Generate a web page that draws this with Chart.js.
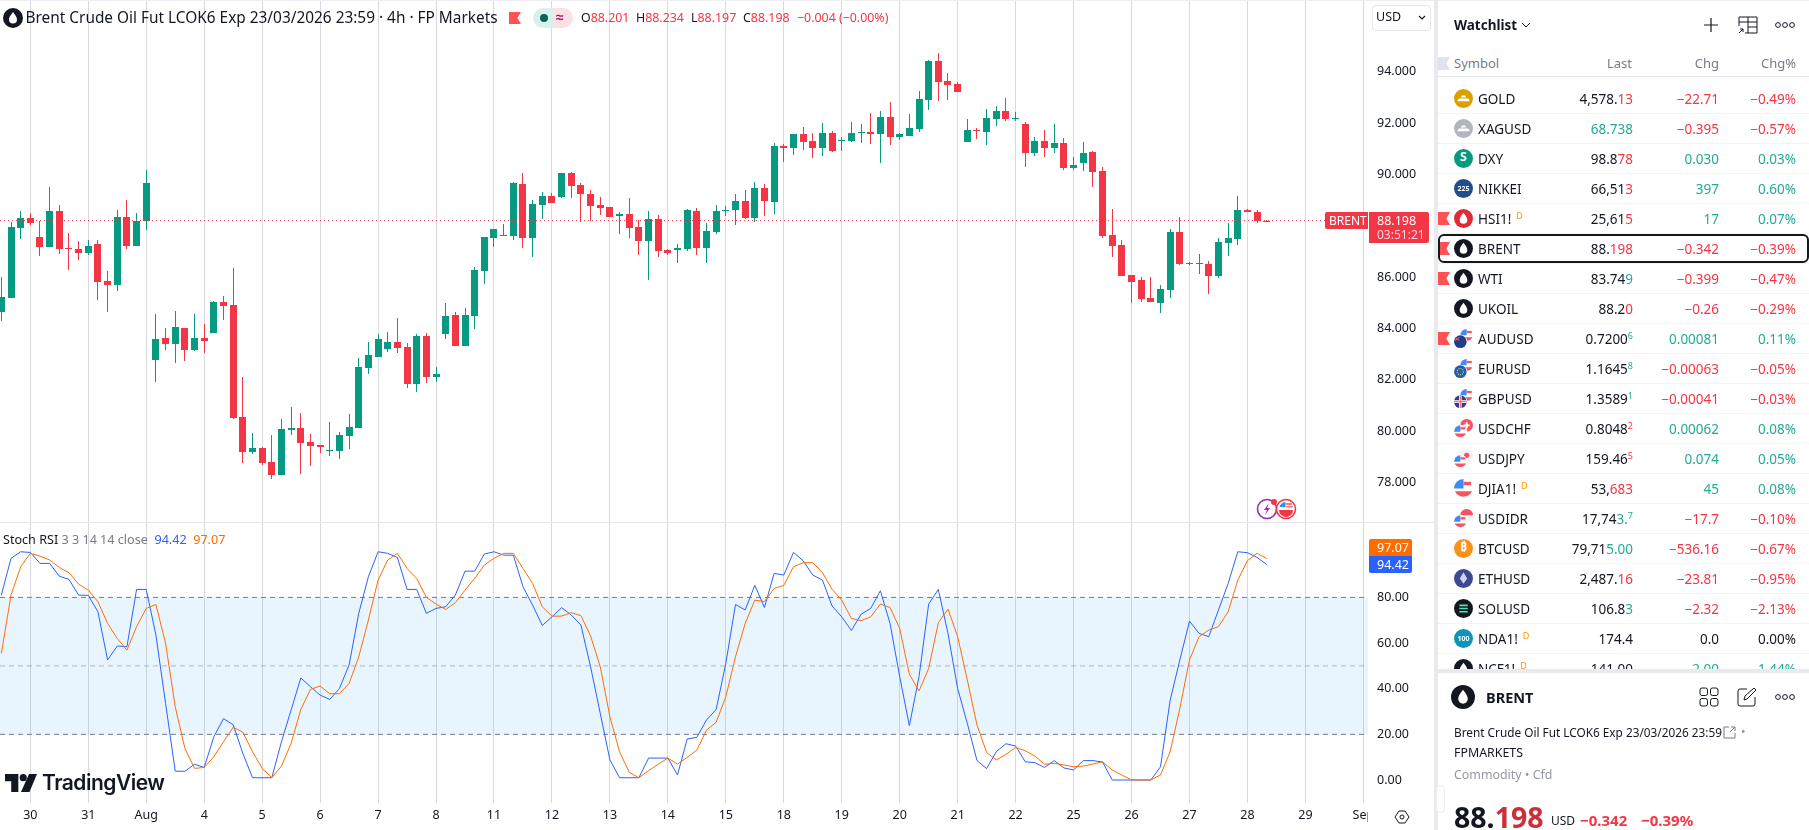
<!DOCTYPE html>
<html>
<head>
<meta charset="utf-8">
<title>BRENT 4h</title>
<script src="https://cdn.jsdelivr.net/npm/chart.js@4"></script>
<style>
html, body { margin: 0; padding: 0; background: #fff; }
body { width: 1809px; height: 830px; overflow: hidden; position: relative; font-family: "Noto Sans", sans-serif; color: #131722; }
canvas { position: absolute; left: 0; }
.abs { position: absolute; white-space: nowrap; }
.r { color: #f23645; }
.g { color: #22ab94; }
.row { position: absolute; left: 1438px; width: 371px; height: 30px; border-bottom: 1px solid #f0f3fa; box-sizing: border-box; font-size: 13.5px; line-height: 30px; }
.row span.c { position: absolute; top: 0; white-space: nowrap; }
.row sup { font-size: 9px; line-height: 0; vertical-align: 5px; }
.flag { position: absolute; width: 12px; height: 13px; background: #ff5252; clip-path: polygon(0 0, 100% 0, 70% 50%, 100% 100%, 0 100%); }
.ic { position: absolute; left: 16px; top: 5px; width: 19px; height: 19px; }
</style>
</head>
<body>
<canvas id="price-chart" width="1434" height="522" style="top:0;width:1434px;height:522px"></canvas>
<canvas id="stoch-chart" width="1434" height="307" style="top:523px;width:1434px;height:307px"></canvas>
<div id="overlay"></div>
<script>
// candles, 4h bars
const opens = [84.65,85.18,87.91,88.30,87.56,87.17,88.57,87.13,87.09,86.94,87.29,85.84,85.69,88.34,87.21,88.18,
  82.77,83.62,83.39,84.01,83.16,83.62,83.82,85.03,84.91,80.55,79.18,79.34,78.79,78.29,80.04,80.12,79.57,79.45,79.22,79.22,79.81,
  80.12,82.45,82.88,83.19,83.47,83.27,81.83,83.70,82.10,83.78,84.52,83.31,84.48,86.23,87.52,87.60,87.60,89.62,87.52,88.81,
  89.16,89.12,90.05,89.58,89.23,88.81,88.73,88.38,88.45,87.95,87.40,88.26,87.05,87.05,87.09,88.57,87.13,87.75,88.57,88.61,
  88.96,88.30,89.47,88.92,91.10,91.03,91.57,91.30,91.03,91.61,91.30,91.30,91.61,91.65,91.57,92.23,91.45,91.49,91.77,92.90,
  94.41,93.64,93.52,91.26,91.73,91.65,92.16,92.47,92.16,91.96,90.83,91.30,91.03,91.22,90.25,90.44,90.87,90.13,87.64,87.25,
  86.08,85.88,85.18,84.99,85.49,87.75,86.55,86.51,86.51,86.04,87.32,87.49,88.61,88.53,88.201];
const highs = [86.00,88.14,88.57,88.49,88.18,89.51,88.81,87.71,87.40,87.44,87.44,86.23,88.61,89.00,88.49,90.17,
  84.56,84.01,84.68,84.01,84.56,84.17,85.07,85.26,86.35,82.10,79.92,79.38,79.84,80.47,80.94,80.70,79.88,79.45,80.35,79.96,80.66,
  82.84,83.47,83.78,83.86,84.40,83.43,83.78,83.82,82.49,84.99,84.64,84.79,86.39,87.56,87.87,88.06,89.70,90.05,89.00,89.31,
  89.27,90.05,90.09,89.66,89.39,89.12,88.73,88.53,89.08,88.22,88.57,88.42,87.09,87.29,88.65,88.69,88.10,88.81,88.77,89.23,
  89.39,89.70,89.62,91.22,91.18,91.57,91.85,91.61,92.00,91.69,91.45,92.04,91.96,92.39,92.47,92.82,91.61,92.35,93.25,94.45,
  94.73,93.95,93.60,92.16,91.81,92.55,92.66,92.97,92.43,92.04,91.45,91.73,91.96,91.42,90.68,91.26,90.91,90.29,88.65,87.44,
  86.08,86.00,86.00,85.69,87.87,88.34,86.58,86.90,86.62,87.52,88.10,89.16,88.65,88.61,88.234];
const lows = [84.29,85.18,87.48,88.03,86.82,87.17,86.90,86.27,86.66,86.86,85.11,84.64,85.45,87.09,87.21,87.83,
  81.91,83.16,82.65,82.73,83.12,83.04,83.82,84.32,80.47,78.75,79.10,78.67,78.13,78.29,79.84,78.33,78.64,79.14,79.03,78.91,79.30,
  80.12,82.22,82.88,83.08,83.04,81.68,81.52,81.87,81.91,83.58,83.31,83.31,83.97,85.73,87.17,87.60,87.44,87.13,86.78,88.26,
  88.88,89.08,89.08,88.14,88.18,88.42,88.34,87.68,87.52,86.86,85.88,86.78,86.86,86.55,87.01,86.86,86.55,87.68,88.38,88.03,
  88.26,88.14,88.38,88.45,90.48,90.75,90.95,90.64,90.71,90.87,90.91,91.26,91.22,91.18,90.44,91.14,91.34,91.49,91.65,92.51,
  92.86,92.90,93.21,91.26,91.38,91.14,91.88,92.08,92.08,90.29,90.71,90.68,90.83,90.17,90.17,90.13,89.51,87.52,86.78,86.04,
  84.99,85.03,85.03,84.60,85.18,86.47,86.47,86.12,85.34,85.96,86.82,87.25,88.53,88.10,88.197];
const closes = [85.22,87.95,88.30,88.10,87.17,88.57,87.09,87.09,86.94,87.21,85.81,85.69,88.34,87.21,88.18,89.66,
  83.58,83.39,84.05,83.16,83.62,83.51,85.03,84.87,80.51,79.18,79.34,78.75,78.29,80.08,80.12,79.53,79.42,79.38,79.26,79.84,80.16,
  82.49,82.96,83.58,83.47,83.23,81.83,83.70,82.10,82.22,84.48,83.31,84.52,86.27,87.56,87.87,87.64,89.66,87.52,88.84,89.16,
  88.88,90.05,89.55,89.23,88.77,88.69,88.34,88.45,87.91,87.40,88.26,87.01,86.94,87.13,88.61,87.13,87.79,88.57,88.63,88.96,
  88.30,89.47,88.96,91.10,91.03,91.57,91.26,91.03,91.61,90.91,91.34,91.61,91.65,91.57,92.23,91.45,91.57,91.81,92.94,94.41,
  93.60,93.48,93.21,91.73,91.69,92.20,92.47,92.16,92.20,90.83,91.30,91.03,91.22,90.25,90.36,90.83,90.09,87.60,87.21,86.04,
  85.81,85.14,85.03,85.53,87.75,86.51,86.51,86.55,86.04,87.36,87.52,88.61,88.53,88.18,88.198];

// Stoch RSI, same bars
const stochK = [81.0,97.1,100,99.7,94.9,94.9,89.3,87.9,81.0,80.9,73.7,52.6,58.7,58.4,83.5,83.5,63.5,33.6,3.9,3.8,6.9,5.5,19.0,26.9,24.2,11.7,
  1.0,1.0,1.0,16.8,30.7,44.7,40.9,37.2,35.3,40.1,50.4,73.0,89.1,100,99.3,97.5,83.5,83.5,73.0,75.2,75.9,81.0,91.5,91.5,99.0,100,98.5,98.5,
  84.7,76.6,67.7,71.5,75.5,72.3,67.9,49.6,29.2,8.8,1.0,1.0,1.0,9.6,9.6,9.6,2.2,18.0,18.7,26.3,30.9,51.1,76.9,74.5,85.3,75.6,90.5,89.8,99.7,
  96.1,89.8,87.6,76.2,71.5,65.5,72.6,75.2,82.9,68.6,45.3,23.8,45.3,77.1,83.5,64.2,40.1,24.8,8.5,5.0,12.4,15.9,14.9,8.0,7.6,5.5,8.5,5.3,4.4,
  8.5,8.5,7.9,0,0,0,0,0,5.8,35.0,52.6,69.6,64.2,62.8,74.5,86.1,100,99.6,97.5,94.42];
const stochD = [55.5,81.0,93.4,99.3,98.1,96.4,93.1,90.8,85.8,83.2,78.1,68.6,62.0,56.9,67.2,75.2,76.9,59.9,32.1,13.9,5.1,5.5,10.2,16.8,23.1,21.0,
  12.4,5.1,1.0,6.1,16.1,30.9,39.7,41.2,37.8,37.8,42.3,54.0,70.1,87.6,96.4,99.3,92.7,88.3,80.0,77.1,74.7,77.7,83.2,88.3,94.2,97.1,99.3,99.3,
  92.7,86.1,75.9,71.8,71.8,73.3,72.0,63.1,49.6,27.7,12.4,3.4,1.0,4.1,6.9,9.6,7.0,9.9,13.1,21.9,25.3,36.5,54.0,68.6,78.8,78.2,83.9,85.3,93.4,
  95.2,95.2,90.9,83.6,78.8,70.8,69.8,71.5,77.1,75.6,66.4,46.3,39.0,48.9,68.9,74.9,62.8,43.8,24.1,12.0,8.8,11.2,14.3,12.8,10.5,6.9,7.3,6.6,5.8,
  6.1,7.0,8.0,4.4,2.2,0,0,0,2.2,12.4,31.4,52.6,62.8,65.7,67.2,73.7,87.6,96.1,99.3,97.07];

const dayLabels = ['30','31','Aug','4','5','6','7','8','11','12','13','14','15','18','19','20','21','22','25','26','27','28','29','Sep'];
const priceTicks = [78,80,82,84,86,90,92,94];
const stochTicks = [0,20,40,60,80];
const stochLevels = [80,50,20];
const lastPrice = 88.198;

const FONT = '"Noto Sans", sans-serif';
const UP = '#089981', DOWN = '#f23645';
const GRID = '#d9dadd';
const AXIS_W = 66;

// first bar is 3 before the "30" tick, 6 bars a day
const barIndex = opens.map((_, i) => i - 3);
const dayTicks = dayLabels.map((_, i) => i * 6);
const xMin = -3.14, xMax = 138.48;
const barColors = opens.map((o, i) => closes[i] >= o ? UP : DOWN);

// chart.js keeps half a label of margin by default, the panes here go edge to edge
const noMargins = s => { s.paddingTop = s.paddingBottom = s.paddingLeft = s.paddingRight = 0; };

const xScale = (showLabels) => ({
  type: 'linear', min: xMin, max: xMax, offset: false,
  afterBuildTicks: s => { s.ticks = dayTicks.map(v => ({ value: v })); },
  afterFit: s => { noMargins(s); if (showLabels) s.height = 27; },
  grid: { color: GRID, offset: false, drawTicks: false },
  border: { display: false },
  ticks: {
    display: showLabels, autoSkip: false, maxRotation: 0, padding: 5,
    color: '#131722', font: { family: FONT, size: 12.5 },
    callback: (v, i) => dayLabels[i]
  }
});

const yScale = (min, max, tickList, fmt) => ({
  type: 'linear', position: 'right', min, max,
  afterBuildTicks: s => { s.ticks = tickList.map(v => ({ value: v })); },
  afterFit: s => { noMargins(s); s.width = AXIS_W; },
  grid: { display: false, drawTicks: false },
  border: { display: false },
  ticks: { color: '#131722', font: { family: FONT, size: 12.5 }, padding: 9, callback: fmt }
});

// keep candles on whole pixels, the way the original looks
const snapBars = {
  id: 'snapBars',
  beforeDatasetsDraw(chart) {
    chart.getSortedVisibleDatasetMetas().forEach(meta => {
      if (meta.type !== 'bar') return;
      meta.data.forEach(el => {
        el.x = Math.floor(el.x) + 0.5;
        el.y = Math.round(el.y);
        el.base = Math.round(el.base);
        if (el.y === el.base) el.base = el.y + 1;
      });
    });
  }
};

new Chart(document.getElementById('price-chart'), {
  type: 'bar',
  plugins: [snapBars],
  data: {
    datasets: [
      { type: 'line', data: [{ x: xMin, y: lastPrice }, { x: xMax, y: lastPrice }], borderColor: DOWN, borderWidth: 1, borderDash: [1, 3], pointRadius: 0, order: 0 },
      { data: barIndex.map((n, i) => ({ x: n, y: [opens[i], closes[i]] })), backgroundColor: barColors, barThickness: 7, grouped: false, inflateAmount: 0, order: 1 },
      { data: barIndex.map((n, i) => ({ x: n, y: [lows[i], highs[i]] })), backgroundColor: barColors, barThickness: 1, grouped: false, inflateAmount: 0, order: 2 }
    ]
  },
  options: {
    responsive: false, animation: false, devicePixelRatio: 1,
    layout: { padding: 0 },
    plugins: { legend: { display: false }, tooltip: { enabled: false } },
    scales: { x: xScale(false), y: yScale(76.458, 96.793, priceTicks, v => v.toFixed(3)) }
  }
});

new Chart(document.getElementById('stoch-chart'), {
  type: 'line',
  data: {
    datasets: [
      { data: barIndex.map((n, i) => ({ x: n, y: stochD[i] })), borderColor: '#ff6d00', borderWidth: 1, pointRadius: 0 },
      { data: barIndex.map((n, i) => ({ x: n, y: stochK[i] })), borderColor: '#2962ff', borderWidth: 1, pointRadius: 0 },
      { data: [{ x: xMin, y: stochLevels[1] }, { x: xMax, y: stochLevels[1] }], borderColor: 'rgba(120,123,134,0.5)', borderWidth: 1, borderDash: [5, 4], pointRadius: 0 },
      { data: [{ x: xMin, y: stochLevels[0] }, { x: xMax, y: stochLevels[0] }], borderColor: '#787b86', borderWidth: 1, borderDash: [5, 4], pointRadius: 0, fill: '+1', backgroundColor: 'rgba(33,150,243,0.1)' },
      { data: [{ x: xMin, y: stochLevels[2] }, { x: xMax, y: stochLevels[2] }], borderColor: '#787b86', borderWidth: 1, borderDash: [5, 4], pointRadius: 0 }
    ]
  },
  options: {
    responsive: false, animation: false, devicePixelRatio: 1,
    layout: { padding: 0 },
    plugins: { legend: { display: false }, tooltip: { enabled: false } },
    scales: { x: xScale(true), y: yScale(-10.07, 112.6, stochTicks, v => v.toFixed(2)) }
  }
});

// ---- page furniture round the charts ----
const dropIcon = (x, y, d) => `<svg class="abs" style="left:${x}px;top:${y}px" width="${d}" height="${d}" viewBox="0 0 18 18"><circle cx="9" cy="9" r="9" fill="#131722"/><path d="M9 3.6C7 6.4 5.4 8.2 5.4 10.4a3.6 3.6 0 0 0 7.2 0C12.6 8.2 11 6.4 9 3.6z" fill="#fff"/></svg>`;
const box = (x, y, w, h, css, inner) => `<div class="abs" style="left:${x}px;top:${y}px;width:${w}px;height:${h}px;${css}">${inner || ''}</div>`;
const label = (x, cy, size, css, text) => `<div class="abs" style="left:${x}px;top:${cy - 12}px;height:24px;line-height:24px;font-size:${size}px;${css}">${text}</div>`;
const right = (rx, cy, size, css, text) => `<div class="abs" style="right:${1809 - rx}px;top:${cy - 12}px;height:24px;line-height:24px;font-size:${size}px;${css}">${text}</div>`;

let html = '';
html += box(0, 0, 1809, 1, 'background:#eceef2');
html += box(0, 522, 1434, 1, 'background:#e6e8ec');
html += box(1368, 803, 66, 27, 'background:#fff');
html += box(1434, 0, 4, 830, 'background:#e9eaee');

// header line
html += dropIcon(3, 8, 20);
html += label(25.5, 18, 15.4, 'color:#131722', 'Brent Crude Oil Fut LCOK6 Exp 23/03/2026 23:59 · 4h · FP Markets');
html += `<div class="flag" style="left:509px;top:12px;height:12px"></div>`;
html += box(533, 8, 20, 20, 'background:#d9f0ec;border-radius:10px 0 0 10px');
html += box(553, 8, 20, 20, 'background:#fde0e6;border-radius:0 10px 10px 0');
html += box(540, 14, 8, 8, 'background:#056656;border-radius:50%');
html += label(556, 17, 14, 'color:#9c1c5e;font-weight:700', '≈');
const ohlc = [['O', '88.201', 581], ['H', '88.234', 636], ['L', '88.197', 691], ['C', '88.198', 743]];
ohlc.forEach(o => { html += label(o[2], 18, 12.4, '', `${o[0]}<span class="r">${o[1]}</span>`); });
html += label(797, 18, 12.4, 'color:#f23645', '−0.004 (−0.00%)');

// axis furniture
html += box(1372, 5, 57, 24, 'border:1px solid #e6e8ec;border-radius:4px');
html += label(1376, 17, 12.5, '', 'USD');
html += `<svg class="abs" style="left:1418px;top:15px" width="8" height="6"><path d="M1 1l3 3 3-3" fill="none" stroke="#131722" stroke-width="1.2"/></svg>`;
html += box(1325, 212, 43, 17, 'background:#f23645;border-radius:2px 0 0 2px');
html += label(1329, 220.5, 12, 'color:#fff', 'BRENT');
html += box(1369, 212, 60, 31, 'background:#f23645;border-radius:0 2px 2px 0');
html += label(1377, 221, 12.5, 'color:#fff', '88.198');
html += label(1377, 235, 12, 'color:#fbd5da', '03:51:21');

// session icons
html += `<svg class="abs" style="left:1255px;top:496px" width="44" height="26"><circle cx="12" cy="13" r="9.5" fill="#fff" stroke="#9c27b0" stroke-width="1.6"/><path d="M14 7l-5 7h3l-2 5 5-7h-3z" fill="#9c27b0"/><circle cx="31" cy="13" r="9.5" fill="#fff" stroke="#f23645" stroke-width="1.6"/><path d="M24 14h14a7 7 0 0 1-14 0z" fill="#f23645"/><path d="M24.5 11a7 7 0 0 1 6-5v5z" fill="#2196f3"/><path d="M31 7h6v2h-6zM31 10h7v1.4h-7z" fill="#f77"/><circle cx="19" cy="6" r="3" fill="#f23645"/></svg>`;

// Stoch legend
html += label(3, 539.5, 12.6, '', 'Stoch RSI <span style="color:#787b86">3 3 14 14 close</span> &nbsp;<span style="color:#2962ff">94.42</span> &nbsp;<span style="color:#ff6d00">97.07</span>');
html += box(1369, 539, 43, 17, 'background:#ff6d00;border-radius:2px 2px 0 0');
html += label(1377, 547.5, 12.5, 'color:#fff', '97.07');
html += box(1369, 556, 43, 17, 'background:#2962ff;border-radius:0 0 2px 2px');
html += label(1377, 564.5, 12.5, 'color:#fff', '94.42');

// logo
html += `<svg class="abs" style="left:5px;top:774px" width="32" height="18" viewBox="0 0 36 20"><path d="M0 0h15v20H7V8H0z" fill="#131722"/><circle cx="20.5" cy="4" r="4" fill="#131722"/><path d="M27 0h9l-8.500 20H18z" fill="#131722"/></svg>`;
html += label(42, 783, 21, 'font-weight:600;letter-spacing:-0.5px;font-family:Inter,sans-serif', 'TradingView');

// settings hexagon
html += `<svg class="abs" style="left:1394px;top:809px" width="16" height="16"><path d="M5 2h6l4 6-4 6H5L1 8z" fill="none" stroke="#131722"/><circle cx="8" cy="8" r="2" fill="none" stroke="#131722"/></svg>`;

// ---- watchlist ----
const symbols = ['GOLD','XAGUSD','DXY','NIKKEI','HSI1!','BRENT','WTI','UKOIL','AUDUSD','EURUSD','GBPUSD','USDCHF','USDJPY','DJIA1!','USDIDR','BTCUSD','ETHUSD','SOLUSD','NDA1!','NCF1!'];
const lastValues = [
  '4,578.<span class="r">13</span>','<span class="g">68.738</span>','98.8<span class="r">78</span>','66,51<span class="r">3</span>','25,61<span class="r">5</span>',
  '88.<span class="r">198</span>','83.74<span class="g">9</span>','88.2<span class="r">0</span>','0.7200<sup class="g">6</sup>','1.1645<sup class="g">8</sup>',
  '1.3589<sup class="g">1</sup>','0.8048<sup class="r">2</sup>','159.46<sup class="r">5</sup>','53,<span class="r">683</span>','17,74<span class="g">3.</span><sup class="g">7</sup>',
  '79,71<span class="g">5.00</span>','2,487.<span class="r">16</span>','106.8<span class="g">3</span>','174.4','141.00'];
const changes = ['−22.71','−0.395','0.030','397','17','−0.342','−0.399','−0.26','0.00081','−0.00063','−0.00041','0.00062','0.074','45','−17.7','−536.16','−23.81','−2.32','0.0','2.00'];
const changePct = ['−0.49%','−0.57%','0.03%','0.60%','0.07%','−0.39%','−0.47%','−0.29%','0.11%','−0.05%','−0.03%','0.08%','0.05%','0.08%','−0.10%','−0.67%','−0.95%','−2.13%','0.00%','1.44%'];
const flagged = ['HSI1!','BRENT','WTI','AUDUSD'];
const delayed = ['HSI1!','DJIA1!','NDA1!','NCF1!'];

// small round flags for the fx pairs
const usFlag = (cx, cy, r) => `<circle cx="${cx}" cy="${cy}" r="${r}" fill="#fff"/><path d="M${cx - r} ${cy}a${r} ${r} 0 0 1 ${r} ${-r}v${r}z" fill="#3d8bfd"/><path d="M${cx} ${cy - r * 0.7}h${r * 0.8}v${r * 0.35}h${-r * 0.8}z" fill="#f7525f"/><path d="M${cx - r * 0.9} ${cy + r * 0.3}a${r} ${r} 0 0 0 ${r * 1.8} 0z" fill="#f7525f"/>`;
const disc = (cx, cy, r, color, inner) => `<circle cx="${cx}" cy="${cy}" r="${r}" fill="${color}"/>${inner || ''}`;
function coin(color, inner) { return `<svg class="ic" viewBox="0 0 18 18"><circle cx="9" cy="9" r="9" fill="${color}"/>${inner || ''}</svg>`; }
function pair(back, front) { return `<svg class="ic" viewBox="0 0 18 18">${back}<circle cx="6" cy="12" r="6.600" fill="#fff"/>${front}</svg>`; }
const bars = '<path d="M3 11.500l1.500-2.500h9l1.500 2.500z M6.500 8l1-1.800h3l1 1.800z" fill="#fff"/>';
const txt = (t, s) => `<text x="9" y="11.500" text-anchor="middle" font-size="${s}" font-weight="700" fill="#fff" font-family="Noto Sans">${t}</text>`;
const dropPath = '<path d="M9 3.600C7 6.400 5.400 8.200 5.400 10.400a3.600 3.600 0 0 0 7.200 0C12.600 8.200 11 6.400 9 3.600z" fill="#fff"/>';
const topUs = usFlag(12, 6, 6), lowUs = usFlag(6, 12, 6);
const icons = [coin('#d9a000', bars), coin('#b2b5be', bars), coin('#089981', txt('S', 12)), coin('#1f4e8c', txt('225', 6.600)), coin('#e02b36', dropPath),
  coin('#131722', dropPath), coin('#131722', dropPath), coin('#131722', dropPath),
  pair(topUs, disc(6, 12, 6, '#1f3f8c', '<path d="M1 8l4 3M5 8l-4 3" stroke="#f7525f"/>')),
  pair(topUs, disc(6, 12, 6, '#1f5fb0', '<circle cx="6" cy="12" r="3" fill="none" stroke="#f5c842" stroke-dasharray="1 1"/>')),
  pair(topUs, disc(6, 12, 6, '#2a3f8f', '<path d="M0 12h12M6 6v12" stroke="#fff" stroke-width="2.500"/><path d="M0 12h12M6 6v12" stroke="#f7525f"/>')),
  pair(disc(12, 6, 6, '#f7525f', '<path d="M12 3v6M9 6h6" stroke="#fff" stroke-width="1.800"/>'), lowUs),
  pair(disc(12, 6, 6, '#f2f3f7', '<circle cx="12" cy="6" r="2.500" fill="#f7525f"/>'), lowUs),
  `<svg class="ic" viewBox="0 0 18 18">${usFlag(9, 9, 9)}</svg>`,
  pair(disc(12, 6, 6, '#f2f3f7', '<path d="M6 6a6 6 0 0 1 12 0z" fill="#f7525f"/>'), lowUs),
  coin('#f7931a', txt('₿', 11)), coin('#3c4a8e', '<path d="M9 3l3.500 6L9 14 5.500 9z" fill="#cdd3f4"/>'),
  coin('#131722', '<path d="M5 6h8M5 9h8M5 12h8" stroke="#4be3c0" stroke-width="1.500"/>'), coin('#0f93b8', txt('100', 6.600)), coin('#131722', dropPath)];

html += label(1454, 25, 13.5, 'font-weight:700', 'Watchlist');
html += `<svg class="abs" style="left:1521px;top:22px" width="10" height="7"><path d="M1 1l4 4 4-4" fill="none" stroke="#131722"/></svg>`;
html += `<svg class="abs" style="left:1701px;top:15px" width="20" height="20"><path d="M10 3v14M3 10h14" stroke="#131722" stroke-width="1.200"/></svg>`;
html += `<svg class="abs" style="left:1737px;top:15px" width="22" height="20"><path d="M2 2h18v16H8M2 2v9M2 7h18M11 2v16M11 12h9" fill="none" stroke="#131722"/><path d="M2 18l4-4M3 14h3v3" fill="none" stroke="#131722"/></svg>`;
const dots = (x, y) => `<svg class="abs" style="left:${x}px;top:${y}px" width="22" height="8"><circle cx="3" cy="4" r="2.400" fill="none" stroke="#131722"/><circle cx="10" cy="4" r="2.400" fill="none" stroke="#131722"/><circle cx="17" cy="4" r="2.400" fill="none" stroke="#131722"/></svg>`;
html += dots(1775, 21);
html += `<div class="flag" style="left:1438px;top:57px;background:#e0e3eb"></div>`;
html += label(1454, 63, 13, 'color:#787b86', 'Symbol');
html += right(1632, 63, 13, 'color:#787b86', 'Last');
html += right(1719, 63, 13, 'color:#787b86', 'Chg');
html += right(1796, 63, 13, 'color:#787b86', 'Chg%');
html += box(1438, 76, 371, 1, 'background:#e6e8ec');

symbols.forEach((s, i) => {
  const top = 84 + i * 30;
  const chgCls = changes[i].startsWith('−') ? 'r' : (changes[i] === '0.0' ? '' : 'g');
  const pctCls = changePct[i].startsWith('−') ? 'r' : (changePct[i] === '0.00%' ? '' : 'g');
  html += `<div class="row" style="top:${top}px">`;
  if (flagged.includes(s)) html += `<div class="flag" style="left:0;top:8px"></div>`;
  html += icons[i];
  html += `<span class="c" style="left:40px">${s}${delayed.includes(s) ? '<sup style="color:#ff9800;margin-left:5px">D</sup>' : ''}</span>`;
  html += `<span class="c" style="right:176px">${lastValues[i]}</span>`;
  html += `<span class="c ${chgCls}" style="right:90px">${changes[i]}</span>`;
  html += `<span class="c ${pctCls}" style="right:13px">${changePct[i]}</span>`;
  html += `</div>`;
});
html += box(1438, 234, 371, 29, 'border:2px solid #131722;border-radius:6px;box-sizing:border-box');

// ---- detail panel ----
html += box(1438, 669, 371, 161, 'background:#fff;border-top:4px solid #e9eaee;box-sizing:border-box');
html += dropIcon(1451, 685, 24);
html += label(1486, 697, 14.5, 'font-weight:700', 'BRENT');
html += `<svg class="abs" style="left:1699px;top:687px" width="20" height="20" fill="none" stroke="#131722"><rect x="1" y="1" width="7.500" height="7.500" rx="2"/><rect x="11.500" y="1" width="7.500" height="7.500" rx="2"/><rect x="1" y="11.500" width="7.500" height="7.500" rx="2"/><rect x="11.500" y="11.500" width="7.500" height="7.500" rx="2"/></svg>`;
html += `<svg class="abs" style="left:1737px;top:687px" width="20" height="20" fill="none" stroke="#131722"><path d="M10 2H3a2 2 0 0 0-2 2v13a2 2 0 0 0 2 2h13a2 2 0 0 0 2-2v-7"/><path d="M7 13l1-4 9-8 2 2-9 9z"/></svg>`;
html += dots(1775, 693);
html += label(1454, 732, 11.8, '', 'Brent Crude Oil Fut LCOK6 Exp 23/03/2026 23:59');
html += `<svg class="abs" style="left:1723px;top:726px" width="13" height="13" fill="none" stroke="#787b86"><path d="M6 1H1v11h11V7M7 6l5-5M8 1h4v4"/></svg>`;
html += label(1741, 732, 12, 'color:#9598a1', '•');
html += label(1454, 753, 12.4, '', 'FPMARKETS');
html += label(1454, 775, 12.4, 'color:#9598a1', 'Commodity • Cfd');
html += label(1454, 817, 28.5, 'font-weight:700', '88.<span style="color:#cc2f3c">198</span>');
html += label(1551, 821, 12, '', 'USD');
html += label(1580, 820, 15, 'color:#f23645;font-weight:700', '−0.342');
html += label(1641, 820, 15, 'color:#f23645;font-weight:700', '−0.39%');
html += box(1436, 785, 7, 26, 'background:#fff;border:1px solid #eceef2;border-radius:4px', '');

document.getElementById('overlay').innerHTML = html;
</script>
</body>
</html>
